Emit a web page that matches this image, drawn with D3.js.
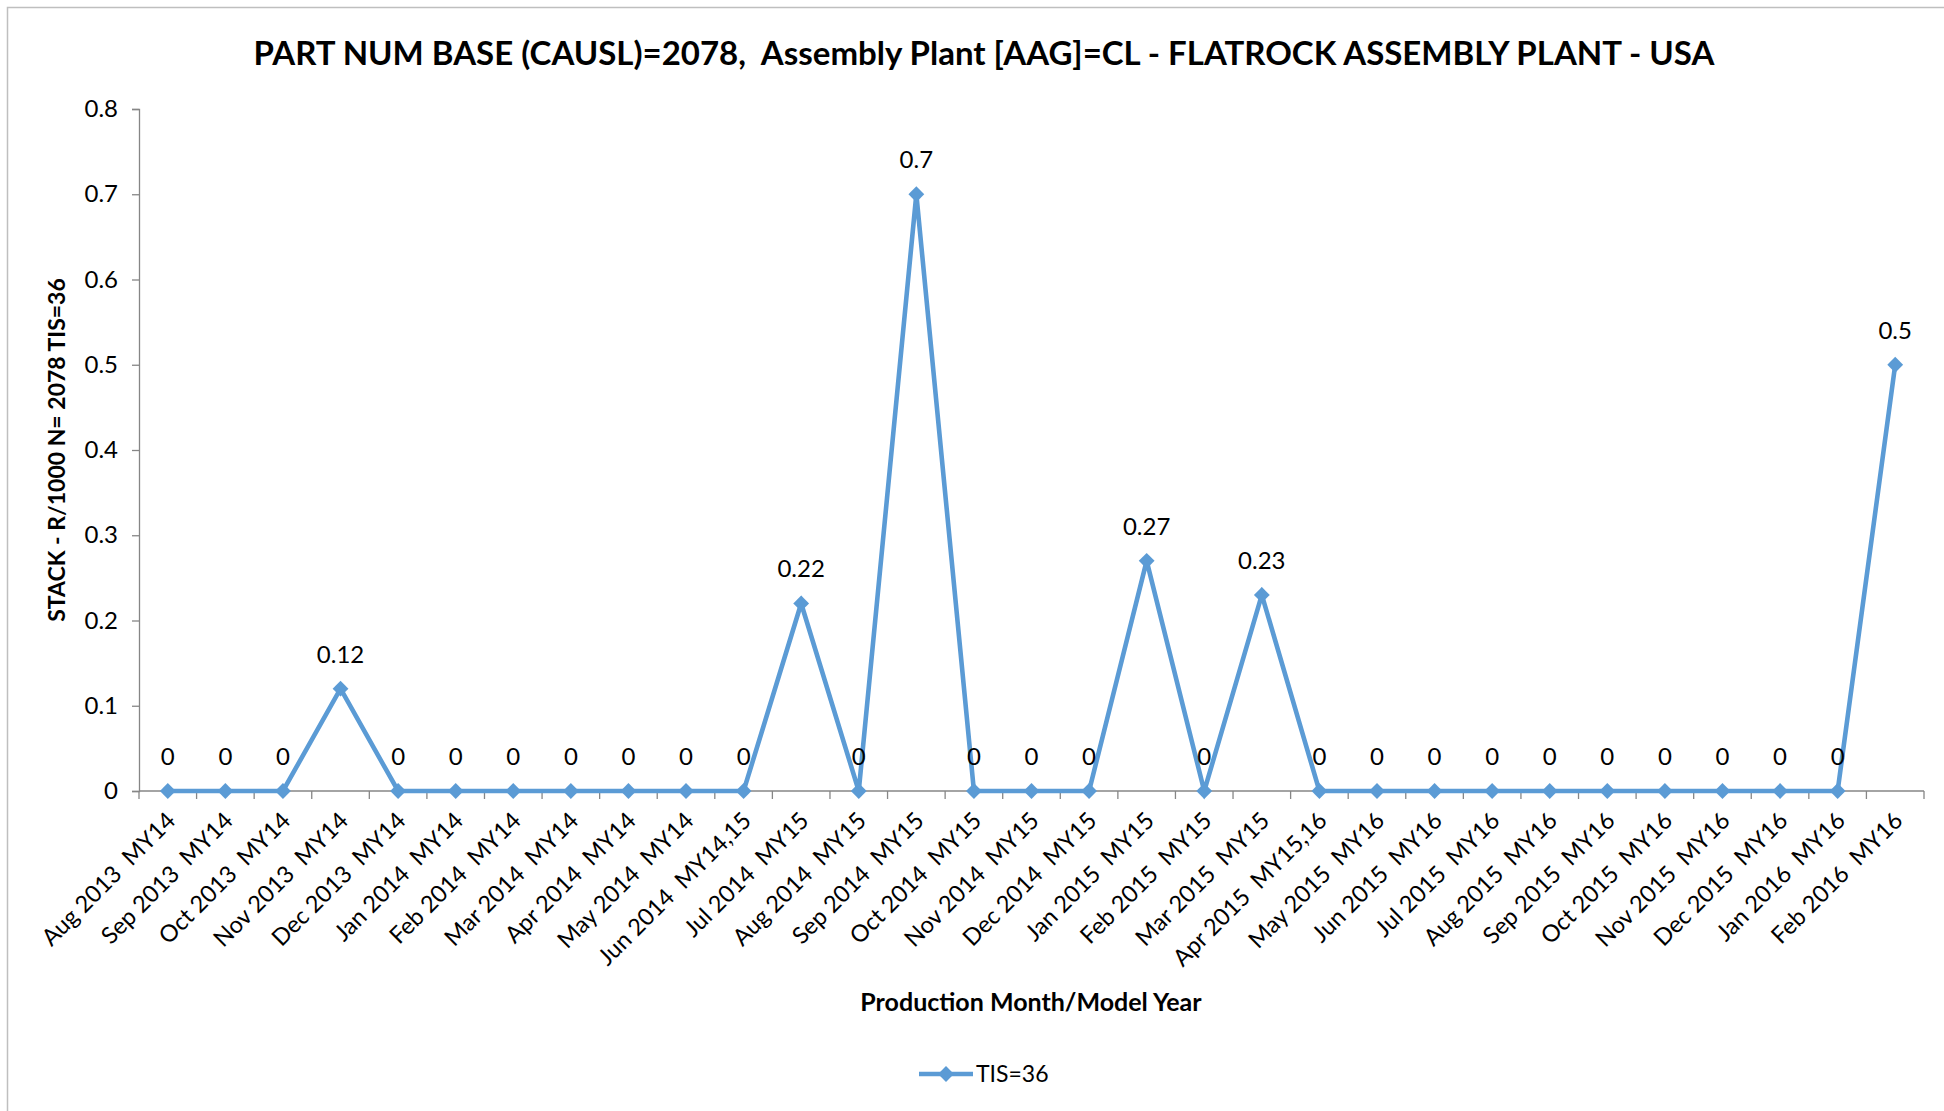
<html>
<head>
    <script src="https://d3js.org/d3.v7.min.js"></script>
    <style>
        body { margin: 0; background: #fff; }
        text { font-family: Lato, "Open Sans", sans-serif; }
    </style>
</head>

<body>
    <div id="cont">
    </div>

    <script>
        var months = ["Aug 2013  MY14", "Sep 2013  MY14", "Oct 2013  MY14", "Nov 2013  MY14", "Dec 2013  MY14",
            "Jan 2014  MY14", "Feb 2014  MY14", "Mar 2014  MY14", "Apr 2014  MY14", "May 2014  MY14",
            "Jun 2014  MY14,15", "Jul 2014  MY15", "Aug 2014  MY15", "Sep 2014  MY15", "Oct 2014  MY15",
            "Nov 2014  MY15", "Dec 2014  MY15", "Jan 2015  MY15", "Feb 2015  MY15", "Mar 2015  MY15",
            "Apr 2015  MY15,16", "May 2015  MY16", "Jun 2015  MY16", "Jul 2015  MY16", "Aug 2015  MY16",
            "Sep 2015  MY16", "Oct 2015  MY16", "Nov 2015  MY16", "Dec 2015  MY16", "Jan 2016  MY16",
            "Feb 2016  MY16"];
        var tis36 = [0, 0, 0, 0.12, 0, 0, 0, 0, 0, 0, 0, 0.22, 0, 0.7, 0, 0, 0, 0.27, 0, 0.23,
            0, 0, 0, 0, 0, 0, 0, 0, 0, 0, 0.5];
        var yTicks = [0, 0.1, 0.2, 0.3, 0.4, 0.5, 0.6, 0.7, 0.8];

        var title = "PART NUM BASE (CAUSL)=2078,  Assembly Plant [AAG]=CL - FLATROCK ASSEMBLY PLANT - USA";
        var yTitle = "STACK - R/1000 N= 2078 TIS=36";
        var xTitle = "Production Month/Model Year";
        var seriesName = "TIS=36";

        var W = 1944, H = 1111;
        var mLeft = 139, mRight = 1924, mTop = 109, mBottom = 791;
        var blue = "#5b9bd5";
        var axisCol = "#868686";

        var svg = d3.select("#cont").append("svg")
            .attr("width", W)
            .attr("height", H);

        // chart frame
        svg.append("rect")
            .attr("x", 7.5).attr("y", 7.5)
            .attr("width", W + 20).attr("height", H + 20)
            .attr("fill", "none")
            .attr("stroke", "#bfbfbf")
            .attr("stroke-width", 1.5);

        var x = d3.scaleBand().domain(months).range([mLeft, mRight]).padding(0);
        var y = d3.scaleLinear().domain([0, 0.8]).range([mBottom, mTop]);
        var cx = function (d, i) { return x(months[i]) + x.bandwidth() / 2; };

        // y axis
        var yAxis = svg.append("g")
            .attr("transform", "translate(" + mLeft + ",0)")
            .call(d3.axisLeft(y).tickValues(yTicks).tickSize(7).tickPadding(14)
                .tickFormat(function (d) { return d === 0 ? "0" : d3.format(".1f")(d); }));
        yAxis.select(".domain").attr("stroke", axisCol).attr("stroke-width", 1.3);
        yAxis.selectAll(".tick line").attr("stroke", axisCol).attr("stroke-width", 1.3);
        yAxis.selectAll(".tick text")
            .attr("font-size", 24)
            .attr("fill", "#000")
            .style("font-family", "Lato, sans-serif");

        // x axis line + ticks at category boundaries
        svg.append("line")
            .attr("x1", mLeft).attr("x2", mRight)
            .attr("y1", mBottom).attr("y2", mBottom)
            .attr("stroke", axisCol).attr("stroke-width", 1.5);
        var bounds = months.map(function (m) { return x(m); }).concat([mRight]);
        svg.selectAll(".xtick").data(bounds).enter().append("line")
            .attr("class", "xtick")
            .attr("x1", function (d) { return d; }).attr("x2", function (d) { return d; })
            .attr("y1", mBottom).attr("y2", mBottom + 8)
            .attr("stroke", axisCol).attr("stroke-width", 1.3);

        svg.selectAll(".xlab").data(months).enter().append("text")
            .attr("class", "xlab")
            .attr("transform", function (d, i) {
                return "translate(" + (cx(d, i) + 9) + "," + (mBottom + 31) + ") rotate(-45)";
            })
            .attr("text-anchor", "end")
            .attr("font-size", 23.5)
            .attr("fill", "#000")
            .style("white-space", "pre")
            .text(function (d) { return d; });

        // series line
        var line = d3.line()
            .x(function (d, i) { return cx(d, i); })
            .y(function (d) { return y(d); });
        svg.append("path")
            .datum(tis36)
            .attr("d", line)
            .attr("fill", "none")
            .attr("stroke", blue)
            .attr("stroke-width", 4.6)
            .attr("stroke-linejoin", "miter");

        var diamond = d3.symbol().type(d3.symbolSquare).size(125);
        svg.selectAll(".pt").data(tis36).enter().append("path")
            .attr("class", "pt")
            .attr("d", diamond)
            .attr("transform", function (d, i) {
                return "translate(" + cx(d, i) + "," + y(d) + ") rotate(45)";
            })
            .attr("fill", blue);

        // data labels
        svg.selectAll(".dlab").data(tis36).enter().append("text")
            .attr("class", "dlab")
            .attr("x", function (d, i) { return cx(d, i); })
            .attr("y", function (d) { return y(d) - 26; })
            .attr("text-anchor", "middle")
            .attr("font-size", 24)
            .attr("fill", "#000")
            .text(function (d) { return String(d); });

        // titles
        svg.append("text")
            .attr("x", 984).attr("y", 65)
            .attr("text-anchor", "middle")
            .attr("font-size", 33)
            .attr("font-weight", "bold")
            .attr("fill", "#000")
            .style("white-space", "pre")
            .text(title);

        svg.append("text")
            .attr("transform", "translate(65,450) rotate(-90)")
            .attr("text-anchor", "middle")
            .attr("font-size", 23)
            .attr("font-weight", "bold")
            .attr("fill", "#000")
            .text(yTitle);

        svg.append("text")
            .attr("x", 1031).attr("y", 1011)
            .attr("text-anchor", "middle")
            .attr("font-size", 25)
            .attr("font-weight", "bold")
            .attr("fill", "#000")
            .text(xTitle);

        // legend
        var lg = svg.append("g").attr("transform", "translate(919,1074)");
        lg.append("line")
            .attr("x1", 0).attr("x2", 54)
            .attr("y1", 0).attr("y2", 0)
            .attr("stroke", blue).attr("stroke-width", 4.6);
        lg.append("path")
            .attr("d", diamond)
            .attr("transform", "translate(27,0) rotate(45)")
            .attr("fill", blue);
        lg.append("text")
            .attr("x", 57).attr("y", 8)
            .attr("font-size", 23)
            .attr("fill", "#000")
            .text(seriesName);
    </script>
</body>
</html>
